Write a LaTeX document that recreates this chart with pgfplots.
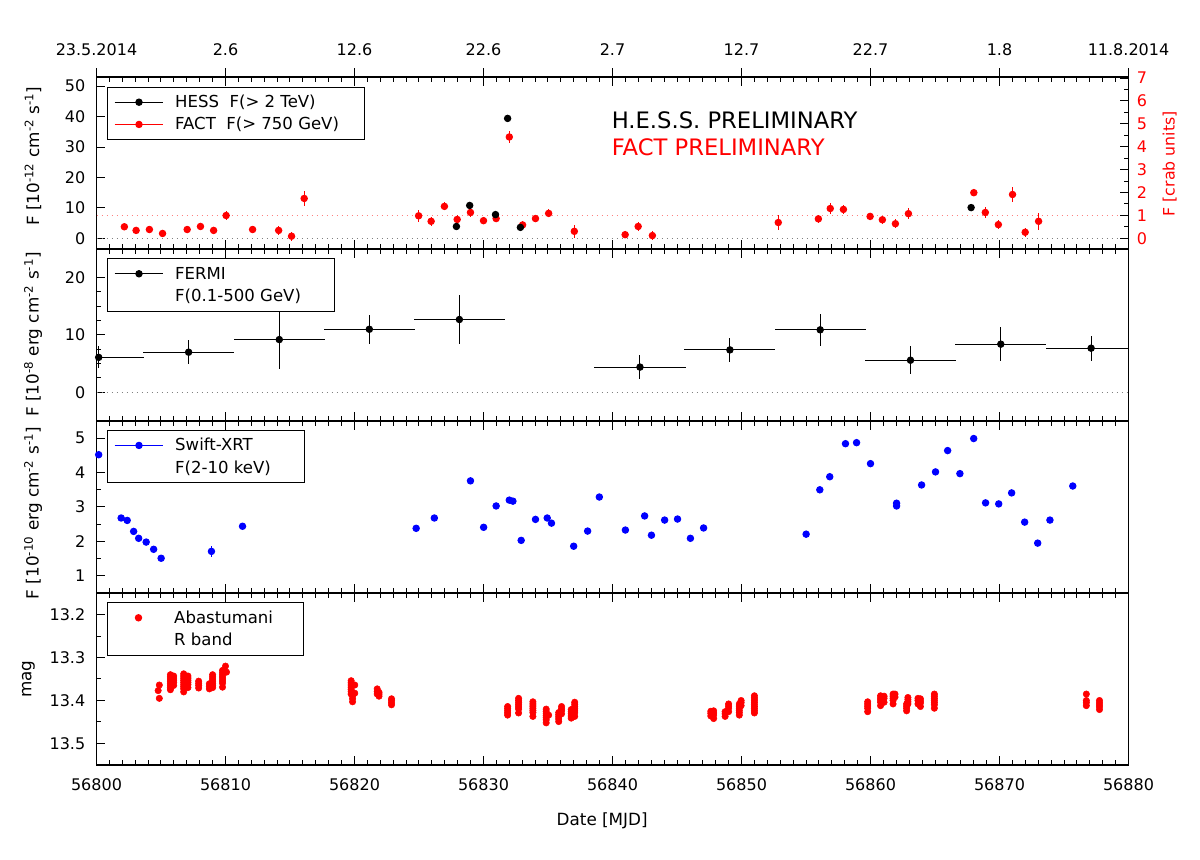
\documentclass[border=0pt]{standalone}
\usepackage{fontspec}
\setmainfont{DejaVu Sans}
\usepackage{pgfplots}
\pgfplotsset{compat=1.18}

\definecolor{dotgray}{gray}{0.5}
\definecolor{dotred}{rgb}{1,0.5,0.5}

% legend text: gap after the key, then a box that fixes the frame width
\newcommand{\keytext}[2]{\hspace*{7pt}\makebox[#1][l]{#2}}

% 1px = 0.75pt, the page is 1200x860 px
\pgfplotsset{
  panel/.style={
    scale only axis,
    width=774pt,
    height=129pt,
    anchor=south west,
    clip=false,
    xmin=56800, xmax=56880,
    xtick={56800,56810,56820,56830,56840,56850,56860,56870,56880},
    minor x tick num=9,
    xticklabels={},
    scaled x ticks=false,
    tick align=inside,
    ytick pos=left,
    major tick length=6.5pt,
    minor tick length=3.75pt,
    every tick/.style={black,line width=0.75pt},
    axis line style={line width=0.9pt},
    tick label style={font=\fontsize{12}{14}\selectfont},
    label style={font=\fontsize{12.6}{15}\selectfont},
    /pgf/number format/assume math mode=true,
    /pgf/number format/set thousands separator={},
    yticklabel style={inner xsep=0pt,xshift=-8.25pt},
    legend cell align=left,
    legend image code/.code={
      % keep the key column wide, also for a key with no line
      \pgfpathmoveto{\pgfqpoint{0pt}{0pt}}\pgfpathlineto{\pgfqpoint{36.4pt}{0pt}}\pgfusepath{discard}
      \draw[mark repeat=2,mark phase=2,##1] plot coordinates {(0pt,0pt) (18.2pt,0pt) (36.4pt,0pt)};
    },
    legend style={
      draw=black,line width=0.75pt,fill=white,
      anchor=north west,
      inner xsep=5.2pt,inner ysep=3.9pt,
      row sep=2pt,
      nodes={font=\fontsize{12.4}{15}\selectfont,inner sep=1.6pt,text height=9.75pt,text depth=1.75pt},
    },
  },
  pts/.style={only marks,mark=*,mark size=2.4pt,color=#1,mark options={fill=#1,solid},
    forget plot,line width=0.75pt,
    error bars/y dir=both,error bars/y explicit,error bars/error mark=none,
    error bars/error bar style={line width=0.75pt,color=#1}},
  key/.style={color=#1,line width=0.75pt,mark=*,mark size=2.4pt,mark options={fill=#1,solid}},
  dots/.style={forget plot,color=#1,line width=0.5pt,dash pattern=on 0.75pt off 3pt},
}

\begin{document}
\begin{tikzpicture}
\path[use as bounding box] (0pt,0pt) rectangle (900pt,645pt);

% ---- HESS / FACT
\begin{axis}[panel,at={(72.375pt,458.25pt)},
    ymin=-3.5,ymax=53,
    ytick={0,10,20,30,40,50},
    ylabel={F [10\textsuperscript{-12} cm\textsuperscript{-2} s\textsuperscript{-1}]},
    ylabel style={at={(axis description cs:-0.0615,0.54)},anchor=center},
    legend style={at={(axis description cs:0.00998,0.9436)}},
  ]
  \addlegendimage{key=black}
  \addlegendentry{\keytext{135.5pt}{HESS\ \ F(> 2 TeV)}}
  \addlegendimage{key=red}
  \addlegendentry{\keytext{135.5pt}{FACT\ \ F(> 750 GeV)}}

  \addplot[dots=dotgray] coordinates {(56800,0) (56880,0)};
  \addplot[dots=dotred] coordinates {(56800,7.52) (56880,7.52)};

  \addplot[pts=red] coordinates {
    (56802.16,3.8) +- (0,1.2)
    (56803.07,2.6) +- (0,1.0)
    (56804.10,2.9) +- (0,1.0)
    (56805.12,1.6) +- (0,1.0)
    (56807.03,2.9) +- (0,1.0)
    (56808.06,3.9) +- (0,1.0)
    (56809.08,2.6) +- (0,1.0)
    (56810.05,7.5) +- (0,1.5)
    (56812.10,2.9) +- (0,1.0)
    (56814.12,2.6) +- (0,1.6)
    (56815.12,0.7) +- (0,1.5)
    (56816.10,13.1) +- (0,2.4)
    (56824.97,7.4) +- (0,1.9)
    (56825.94,5.6) +- (0,1.5)
    (56826.97,10.5) +- (0,1.3)
    (56827.96,6.2) +- (0,1.5)
    (56828.99,8.5) +- (0,1.5)
    (56830.00,5.8) +- (0,1.0)
    (56830.98,6.5) +- (0,1.0)
    (56832.00,33.3) +- (0,2.0)
    (56833.03,4.4) +- (0,1.2)
    (56834.03,6.5) +- (0,1.0)
    (56835.05,8.2) +- (0,1.3)
    (56837.04,2.3) +- (0,2.1)
    (56840.98,1.2) +- (0,1.0)
    (56841.99,3.9) +- (0,1.5)
    (56843.09,0.9) +- (0,1.6)
    (56852.85,5.2) +- (0,2.6)
    (56855.96,6.4) +- (0,1.4)
    (56856.88,9.8) +- (0,1.8)
    (56857.90,9.5) +- (0,1.6)
    (56859.97,7.2) +- (0,1.0)
    (56860.92,6.1) +- (0,1.4)
    (56861.93,4.8) +- (0,1.5)
    (56862.94,8.1) +- (0,1.9)
    (56868.01,15.0) +- (0,1.2)
    (56868.90,8.5) +- (0,1.9)
    (56869.91,4.5) +- (0,1.4)
    (56871.01,14.4) +- (0,2.5)
    (56871.99,2.0) +- (0,1.5)
    (56873.03,5.6) +- (0,2.8)
  };
  \addplot[pts=black] coordinates {
    (56827.90,3.9) +- (0,0.6)
    (56828.93,10.8) +- (0,0.6)
    (56830.93,7.8) +- (0,0.6)
    (56831.87,39.4) +- (0,0.8)
    (56832.86,3.6) +- (0,0.6)
    (56867.80,10.1) +- (0,0.6)
  };
  \node[anchor=west,font=\fontsize{17}{20}\selectfont] at (axis description cs:0.4947,0.747) {H.E.S.S. PRELIMINARY};
  \node[anchor=west,red,font=\fontsize{17}{20}\selectfont] at (axis description cs:0.4947,0.59) {FACT PRELIMINARY};
\end{axis}

% date scale on top, crab units on the right
\begin{axis}[panel,at={(72.375pt,458.25pt)},
    axis x line*=top,axis y line*=right,
    xtick align=outside,
    minor x tick num=0,
    xticklabels={23.5.2014,2.6,12.6,22.6,2.7,12.7,22.7,1.8,11.8.2014},
    xticklabel style={inner ysep=0pt,yshift=9.5pt},
    ymin=-0.4654,ymax=7.048,
    ytick={0,1,2,3,4,5,6,7},
    minor y tick num=1,
    ytick pos=right,
    yticklabel style={red,inner xsep=0pt,xshift=14.25pt},
    ylabel={F [crab units]},
    ylabel style={red,font=\fontsize{11.8}{14}\selectfont,at={(axis description cs:1.04,0.495)},anchor=center},
  ]
  \addplot[draw=none,forget plot] coordinates {(56800,0) (56880,7)};
\end{axis}

% ---- FERMI
\begin{axis}[panel,at={(72.375pt,329.25pt)},
    ymin=-5,ymax=25,
    ytick={0,10,20},
    minor y tick num=3,
    ylabel={F [10\textsuperscript{-8} erg cm\textsuperscript{-2} s\textsuperscript{-1}]},
    ylabel style={at={(axis description cs:-0.0615,0.503)},anchor=center},
    legend style={at={(axis description cs:0.00998,0.946)}},
  ]
  \addlegendimage{key=black}
  \addlegendentry{\keytext{112.5pt}{FERMI}}
  \addlegendimage{empty legend}
  \addlegendentry{\keytext{112.5pt}{F(0.1-500 GeV)}}

  \addplot[dots=dotgray] coordinates {(56800,0) (56880,0)};
  \addplot[pts=black,error bars/x dir=both,error bars/x explicit] coordinates {
    (56800.17,6.1) += (3.5,1.9) -= (0.17,1.9)
    (56807.14,7.0) +- (3.53,2.1)
    (56814.17,9.2) +- (3.53,5.1)
    (56821.15,11.0) +- (3.53,2.5)
    (56828.13,12.7) +- (3.53,4.3)
    (56842.13,4.4) +- (3.53,2.1)
    (56849.10,7.4) +- (3.53,2.15)
    (56856.10,10.9) +- (3.53,2.8)
    (56863.10,5.6) +- (3.53,2.4)
    (56870.10,8.4) +- (3.53,3.0)
    (56877.10,7.7) += (2.9,2.2) -= (3.53,2.2)
  };
\end{axis}

% ---- Swift-XRT
\begin{axis}[panel,at={(72.375pt,200.25pt)},
    ymin=0.5,ymax=5.5,
    ytick={1,2,3,4,5},
    minor y tick num=1,
    ylabel={F [10\textsuperscript{-10} erg cm\textsuperscript{-2} s\textsuperscript{-1}]},
    ylabel style={at={(axis description cs:-0.0615,0.465)},anchor=center},
    legend style={at={(axis description cs:0.00998,0.948)}},
  ]
  \addlegendimage{key=blue}
  \addlegendentry{\keytext{90.5pt}{Swift-XRT}}
  \addlegendimage{empty legend}
  \addlegendentry{\keytext{90.5pt}{F(2-10 keV)}}

  \addplot[pts=blue] coordinates {
    (56800.17,4.52) +- (0,0.04)
    (56801.91,2.68) +- (0,0.04)
    (56802.38,2.61) +- (0,0.04)
    (56802.88,2.29) +- (0,0.04)
    (56803.27,2.09) +- (0,0.04)
    (56803.85,1.98) +- (0,0.04)
    (56804.43,1.77) +- (0,0.04)
    (56805.01,1.51) +- (0,0.04)
    (56808.91,1.71) +- (0,0.17)
    (56811.32,2.44) +- (0,0.04)
    (56824.78,2.38) +- (0,0.04)
    (56826.19,2.68) +- (0,0.04)
    (56828.99,3.76) +- (0,0.04)
    (56830.01,2.41) +- (0,0.04)
    (56830.98,3.03) +- (0,0.04)
    (56832.00,3.20) +- (0,0.04)
    (56832.28,3.17) +- (0,0.04)
    (56832.92,2.03) +- (0,0.04)
    (56834.03,2.64) +- (0,0.04)
    (56834.94,2.68) +- (0,0.04)
    (56835.27,2.53) +- (0,0.04)
    (56836.99,1.86) +- (0,0.04)
    (56838.07,2.30) +- (0,0.04)
    (56838.98,3.29) +- (0,0.04)
    (56841.00,2.33) +- (0,0.04)
    (56842.49,2.74) +- (0,0.04)
    (56843.02,2.18) +- (0,0.04)
    (56844.04,2.62) +- (0,0.04)
    (56845.04,2.65) +- (0,0.04)
    (56846.04,2.09) +- (0,0.04)
    (56847.06,2.39) +- (0,0.04)
    (56855.01,2.21) +- (0,0.04)
    (56856.07,3.50) +- (0,0.04)
    (56856.84,3.88) +- (0,0.04)
    (56858.06,4.84) +- (0,0.04)
    (56858.92,4.87) +- (0,0.04)
    (56860.00,4.26) +- (0,0.04)
    (56862.02,3.11) +- (0,0.08)
    (56862.02,3.03) +- (0,0.04)
    (56863.96,3.64) +- (0,0.04)
    (56865.04,4.02) +- (0,0.04)
    (56865.98,4.64) +- (0,0.04)
    (56866.93,3.97) +- (0,0.04)
    (56868.00,4.99) +- (0,0.04)
    (56868.92,3.12) +- (0,0.04)
    (56869.94,3.09) +- (0,0.04)
    (56870.94,3.41) +- (0,0.04)
    (56871.95,2.56) +- (0,0.04)
    (56872.96,1.95) +- (0,0.04)
    (56873.91,2.62) +- (0,0.04)
    (56875.68,3.61) +- (0,0.04)
  };
\end{axis}

% ---- Abastumani
\begin{axis}[panel,at={(72.375pt,71.25pt)},
    y dir=reverse,
    ymin=13.15,ymax=13.55,
    ytick={13.2,13.3,13.4,13.5},
    minor y tick num=1,
    yticklabel style={/pgf/number format/fixed,/pgf/number format/fixed zerofill,/pgf/number format/precision=1},
    xticklabels={56800,56810,56820,56830,56840,56850,56860,56870,56880},
    xticklabel style={inner ysep=0pt,yshift=-10.25pt},
    xlabel={Date [MJD]},
    xlabel style={at={(axis description cs:0.49,-0.325)},anchor=center},
    ylabel={mag},
    ylabel style={at={(axis description cs:-0.066,0.5)},anchor=center},
    legend style={at={(axis description cs:0.00998,0.946)}},
  ]
  \addlegendimage{key=red,only marks}
  \addlegendentry{\keytext{90.5pt}{Abastumani}}
  \addlegendimage{empty legend}
  \addlegendentry{\keytext{90.5pt}{R band}}

  \addplot[only marks,mark=*,mark size=2.4pt,color=red,mark options={fill=red,solid},forget plot] coordinates {
    (56804.78,13.377) (56804.87,13.364) (56804.87,13.395)
    (56805.73,13.340) (56805.73,13.345) (56805.73,13.350) (56805.73,13.355) (56805.73,13.360) (56805.73,13.365) (56805.73,13.370) (56805.73,13.375)
    (56805.98,13.343) (56805.98,13.348) (56805.98,13.353) (56805.98,13.358) (56805.98,13.365)
    (56806.76,13.338) (56806.76,13.343) (56806.76,13.348) (56806.76,13.353) (56806.76,13.358) (56806.76,13.363) (56806.76,13.368) (56806.76,13.373) (56806.76,13.380)
    (56807.09,13.343) (56807.09,13.348) (56807.09,13.353) (56807.09,13.358) (56807.09,13.363) (56807.09,13.370)
    (56807.92,13.355) (56807.92,13.360) (56807.92,13.365) (56807.92,13.371)
    (56808.75,13.361) (56808.75,13.367) (56808.75,13.373)
    (56809.00,13.340) (56809.00,13.345) (56809.00,13.350) (56809.00,13.355) (56809.00,13.360) (56809.00,13.365) (56809.00,13.370)
    (56809.77,13.330) (56809.77,13.335) (56809.77,13.340) (56809.77,13.345) (56809.77,13.350) (56809.77,13.355) (56809.77,13.360) (56809.77,13.369)
    (56810.00,13.320) (56810.08,13.334)
    (56819.74,13.354) (56819.74,13.359) (56819.74,13.364) (56819.74,13.369) (56819.74,13.374) (56819.74,13.379) (56819.74,13.385)
    (56819.85,13.390) (56819.85,13.396) (56819.85,13.403)
    (56820.02,13.364) (56820.02,13.383)
    (56821.76,13.373) (56821.76,13.379) (56821.76,13.385)
    (56821.90,13.381) (56821.90,13.385) (56821.90,13.390)
    (56822.87,13.396) (56822.87,13.400) (56822.87,13.405) (56822.87,13.410)
    (56831.87,13.414) (56831.87,13.419) (56831.87,13.424) (56831.87,13.429) (56831.87,13.434)
    (56832.72,13.395) (56832.72,13.400) (56832.72,13.405) (56832.72,13.410) (56832.72,13.415) (56832.72,13.420) (56832.72,13.429)
    (56833.83,13.403) (56833.83,13.408) (56833.83,13.413) (56833.83,13.418) (56833.83,13.423) (56833.83,13.428) (56833.83,13.437)
    (56834.86,13.420) (56834.86,13.425) (56834.86,13.430) (56834.86,13.435) (56834.86,13.440) (56834.86,13.445) (56834.86,13.452)
    (56835.05,13.434)
    (56835.83,13.428) (56835.83,13.433) (56835.83,13.438) (56835.83,13.443) (56835.83,13.449)
    (56836.05,13.414) (56836.05,13.419) (56836.05,13.424) (56836.05,13.431)
    (56836.80,13.421) (56836.80,13.426) (56836.80,13.431) (56836.80,13.436) (56836.80,13.441)
    (56837.07,13.404) (56837.07,13.409) (56837.07,13.414) (56837.07,13.419) (56837.07,13.424) (56837.07,13.429) (56837.07,13.437)
    (56847.62,13.425) (56847.62,13.430) (56847.62,13.436)
    (56847.84,13.424) (56847.84,13.429) (56847.84,13.434) (56847.84,13.442)
    (56848.73,13.426) (56848.73,13.431) (56848.73,13.437)
    (56849.00,13.408) (56849.00,13.413) (56849.00,13.418) (56849.00,13.426)
    (56849.83,13.408) (56849.83,13.413) (56849.83,13.418) (56849.83,13.423) (56849.83,13.428) (56849.83,13.434)
    (56849.97,13.400) (56849.97,13.405) (56849.97,13.412)
    (56851.00,13.389) (56851.00,13.394) (56851.00,13.399) (56851.00,13.404) (56851.00,13.409) (56851.00,13.414) (56851.00,13.419) (56851.00,13.424) (56851.00,13.429)
    (56859.78,13.403) (56859.78,13.408) (56859.78,13.413) (56859.78,13.418) (56859.78,13.426)
    (56860.78,13.389) (56860.78,13.394) (56860.78,13.399) (56860.78,13.404) (56860.78,13.412)
    (56861.05,13.390) (56861.05,13.395) (56861.05,13.404)
    (56861.75,13.385) (56861.75,13.390) (56861.75,13.395) (56861.75,13.400) (56861.75,13.408)
    (56861.90,13.385) (56861.90,13.392)
    (56862.80,13.408) (56862.80,13.413) (56862.80,13.418) (56862.80,13.424)
    (56862.90,13.393) (56862.90,13.398) (56862.90,13.403) (56862.90,13.408)
    (56863.68,13.395) (56863.68,13.400) (56863.68,13.408)
    (56863.87,13.396) (56863.87,13.401) (56863.87,13.406) (56863.87,13.414)
    (56864.95,13.385) (56864.95,13.390) (56864.95,13.395) (56864.95,13.400) (56864.95,13.405) (56864.95,13.410) (56864.95,13.418)
    (56876.73,13.385) (56876.73,13.400) (56876.73,13.405) (56876.73,13.412)
    (56877.75,13.400) (56877.75,13.405) (56877.75,13.410) (56877.75,13.415) (56877.75,13.421)
  };
\end{axis}
\end{tikzpicture}
\end{document}
